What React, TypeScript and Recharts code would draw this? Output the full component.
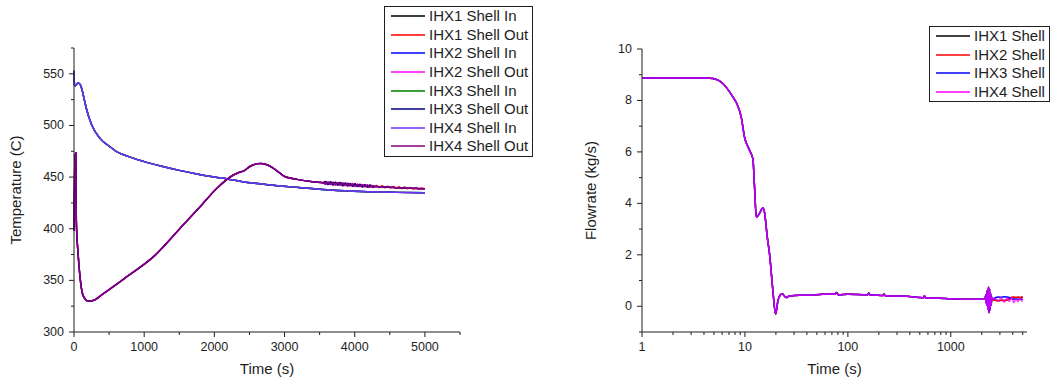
import { LineChart, Line, XAxis, YAxis, Legend } from 'recharts'

const FONT = '"Liberation Sans", Arial, sans-serif'
const INK = '#1e1e1e'

// ---- left panel: shell temperatures ----
const inTime = [0, 8, 20, 55, 90, 120, 150, 180, 250, 370, 510, 600, 750, 1000, 1250, 1500, 1750, 2000, 2200, 2400, 2650, 2900, 3200, 3650, 4100, 4600, 5000]
const shellInTemp = [553, 539, 538.5, 541, 539.5, 533, 524, 515.5, 501, 487.5, 479.5, 475, 470.5, 465, 460.5, 456.5, 453, 450, 448, 445.5, 443.5, 441.5, 440, 437.5, 436, 435.2, 434.8]

const outTime = [0, 15, 25, 33, 58, 91, 129, 200, 271, 414, 748, 1129, 1510, 1796, 2033, 2271, 2350, 2420, 2500, 2600, 2650, 2750, 2843, 2930, 3010, 3177, 3400, 3550]
const shellOutTemp = [398, 470, 473.5, 408, 376, 350, 335.5, 330, 330.5, 337, 353.3, 372.7, 400.3, 421.2, 439, 452, 454.5, 456, 460, 462.8, 463.2, 462, 458.5, 454, 450.3, 447.8, 445.5, 444.5]

// wiggly tails of the outlet curves
const loopTime = [3585, 3620, 3655, 3690, 3725, 3760, 3795, 3830, 3865, 3900, 3935, 3970, 4005, 4040, 4075, 4110, 4145, 4180, 4215, 4250]
const loopUpper = [445.7, 442.8, 445.4, 442.4, 445.0, 442.1, 444.7, 441.7, 444.3, 441.4, 443.9, 441.1, 443.5, 440.8, 443.1, 440.5, 442.7, 440.3, 442.3, 440.1]
const loopLower = [442.9, 445.6, 442.6, 445.2, 442.2, 444.9, 441.9, 444.5, 441.5, 444.2, 441.3, 443.7, 440.9, 443.4, 440.7, 442.9, 440.3, 442.5, 440.1, 441.9]
const loopLowerSoft = [443.4, 445.1, 443.1, 444.7, 442.7, 444.4, 442.4, 444.0, 442.0, 443.7, 441.8, 443.2, 441.4, 442.9, 441.2, 442.4, 440.8, 442.0, 440.6, 441.5]
const outEndTime = [4300, 4400, 4500, 4600, 4700, 4800, 4900, 5000]
const outEndTemp = [440.9, 440.5, 440.1, 439.7, 439.4, 439.1, 438.9, 438.7]
const redTailTime = [4190, 4230, 4270, 4310, 4350, 4390, 4430, 4470, 4510, 4550, 4590, 4630, 4670, 4710, 4750, 4790, 4830, 4870, 4910, 4950, 5000]
const redTailTemp = [440.0, 442.1, 440.0, 441.8, 439.8, 441.5, 439.6, 441.2, 439.4, 440.9, 439.1, 440.6, 438.9, 440.3, 438.7, 440.0, 438.5, 439.8, 438.3, 439.5, 438.7]

const tempXTicks = [0, 500, 1000, 1500, 2000, 2500, 3000, 3500, 4000, 4500, 5000, 5500]
const tempXLabels = [0, 1000, 2000, 3000, 4000, 5000]
const tempYTicks = [300, 325, 350, 375, 400, 425, 450, 475, 500, 525, 550, 575]
const tempYLabels = [300, 350, 400, 450, 500, 550]

// ---- right panel: shell flowrates ----
const flowTime = [1, 2, 3, 4.2, 4.9, 6.1, 7.6, 8.4, 9.2, 9.9, 11.1, 11.96, 12.4, 12.9, 13.9, 14.9, 15.5, 16.5, 17.35, 18.7, 19.85, 20.9, 22, 23, 25.1, 27.1, 34, 42, 57, 75, 78, 81, 100, 155, 160, 165, 175, 220, 225, 230, 368, 540, 555, 570, 776, 1000, 1636, 2100, 2150, 2190, 2230, 2260, 2290, 2320, 2350, 2380, 2410, 2440, 2470, 2500, 2550]
const flowShell = [8.87, 8.87, 8.87, 8.87, 8.85, 8.66, 8.15, 7.85, 7.36, 6.58, 6.06, 5.72, 4.63, 3.46, 3.62, 3.82, 3.65, 2.68, 2.03, 0.6, -0.31, 0.21, 0.44, 0.49, 0.34, 0.4, 0.43, 0.43, 0.47, 0.47, 0.54, 0.44, 0.47, 0.45, 0.52, 0.43, 0.44, 0.42, 0.48, 0.41, 0.39, 0.33, 0.41, 0.32, 0.31, 0.29, 0.27, 0.27, 0.28, 0.45, 0.05, 0.62, -0.12, 0.75, -0.25, 0.7, -0.15, 0.5, 0.05, 0.35, 0.27]
const flowTailTime = [2700, 2900, 3100, 3300, 3500, 3700, 3900, 4100, 4300, 4500, 4700, 4900, 5000]
const ihx1Tail = [0.24, 0.22, 0.23, 0.22, 0.24, 0.28, 0.33, 0.34, 0.33, 0.34, 0.33, 0.34, 0.33]
const ihx2Tail = [0.22, 0.21, 0.23, 0.22, 0.24, 0.3, 0.35, 0.36, 0.35, 0.36, 0.35, 0.36, 0.35]
const ihx3Tail = [0.33, 0.36, 0.35, 0.37, 0.36, 0.34, 0.3, 0.27, 0.28, 0.26, 0.28, 0.27, 0.28]
const ihx4Tail = [0.3, 0.2, 0.34, 0.16, 0.31, 0.19, 0.33, 0.14, 0.29, 0.18, 0.31, 0.2, 0.27]

const flowXTicks = [1, 2, 3, 4, 5, 6, 7, 8, 9, 10, 20, 30, 40, 50, 60, 70, 80, 90, 100, 200, 300, 400, 500, 600, 700, 800, 900, 1000, 2000, 3000, 4000, 5000]
const flowXLabels = [1, 10, 100, 1000]
const flowYTicks = [-1, 0, 1, 2, 3, 4, 5, 6, 7, 8, 9, 10]
const flowYLabels = [0, 2, 4, 6, 8, 10]

const zip = (ts: number[], vs: number[]) => ts.map((t, i) => ({ t, v: vs[i] }))

const inData = zip(inTime, shellInTemp)
const outHead = zip(outTime, shellOutTemp)
const outEnd = zip(outEndTime, outEndTemp)
const tempSeries = [
  { name: 'IHX1 Shell In', color: '#000000', data: inData },
  { name: 'IHX1 Shell Out', color: '#ff0000', data: [...outHead, ...zip(loopTime.slice(0, 17), loopUpper.slice(0, 17)), ...zip(redTailTime, redTailTemp)] },
  { name: 'IHX2 Shell In', color: '#0000ff', data: inData },
  { name: 'IHX2 Shell Out', color: '#ff00ff', data: [...outHead, ...zip(loopTime, loopLower), ...outEnd] },
  { name: 'IHX3 Shell In', color: '#008000', data: inData },
  { name: 'IHX3 Shell Out', color: '#000080', data: [...outHead, ...zip(loopTime, loopUpper), ...outEnd] },
  { name: 'IHX4 Shell In', color: '#7030ff', data: inData },
  { name: 'IHX4 Shell Out', color: '#800080', data: [...outHead, ...zip(loopTime, loopLowerSoft), ...outEnd] },
]

const flowHead = zip(flowTime, flowShell)
const flowSeries = [
  { name: 'IHX1 Shell', color: '#000000', data: [...flowHead, ...zip(flowTailTime, ihx1Tail)], opacity: 1 },
  { name: 'IHX2 Shell', color: '#ff0000', data: [...flowHead, ...zip(flowTailTime, ihx2Tail)], opacity: 1 },
  { name: 'IHX3 Shell', color: '#0000ff', data: [...flowHead, ...zip(flowTailTime, ihx3Tail)], opacity: 1 },
  { name: 'IHX4 Shell', color: '#ff00ff', data: [...flowHead, ...zip(flowTailTime, ihx4Tail)], opacity: 0.75 },
]

const tickText = { fontFamily: FONT, fontSize: 12.5, fill: INK }
const titleStyle = { fontFamily: FONT, fontSize: 15, fill: INK, textAnchor: 'middle' as const }

// tick mark + optional label (bottom axis), tickSize/tickMargin are 0 so y is the axis line
const bottomTick = (labels: number[]) => (props: any) => {
  const { x, y, payload } = props
  const major = labels.includes(payload.value)
  return (
    <g>
      <line x1={x} y1={y} x2={x} y2={y + (major ? 5 : 3)} stroke={INK} />
      {major && (
        <text x={x} y={y + 15} textAnchor="middle" dominantBaseline="central" {...tickText}>
          {payload.value}
        </text>
      )}
    </g>
  )
}

const leftTick = (labels: number[]) => (props: any) => {
  const { x, y, payload } = props
  const major = labels.includes(payload.value)
  return (
    <g>
      <line x1={x - (major ? 5 : 3)} y1={y} x2={x} y2={y} stroke={INK} />
      {major && (
        <text x={x - 10} y={y} textAnchor="end" dominantBaseline="central" {...tickText}>
          {payload.value}
        </text>
      )}
    </g>
  )
}

function BoxLegend({ payload }: any) {
  return (
    <div style={{ border: `1px solid ${INK}`, background: '#fff', fontFamily: FONT, fontSize: 15, color: INK }}>
      {(payload || []).map((e: any) => (
        <div key={e.value} style={{ display: 'flex', alignItems: 'center', height: 18.6, paddingLeft: 5.5 }}>
          <svg width={34} height={4} style={{ flex: 'none' }}>
            <line x1={0} y1={2} x2={34} y2={2} stroke={e.color} strokeWidth={1.5} />
          </svg>
          <span style={{ marginLeft: 4.5, whiteSpace: 'nowrap', lineHeight: '16px' }}>{e.value}</span>
        </div>
      ))}
    </div>
  )
}

function TempChart() {
  return (
    <LineChart width={540} height={385} margin={{ top: 48, right: 80, bottom: 11, left: 0 }}>
      <XAxis
        dataKey="t"
        type="number"
        domain={[0, 5500]}
        ticks={tempXTicks}
        interval={0}
        height={42}
        tickSize={0}
        tickMargin={0}
        tickLine={false}
        axisLine={{ stroke: INK }}
        tick={bottomTick(tempXLabels)}
        label={{ value: 'Time (s)', position: 'insideBottom', offset: 0, style: titleStyle }}
      />
      <YAxis
        type="number"
        domain={[300, 575]}
        ticks={tempYTicks}
        interval={0}
        width={74}
        tickSize={0}
        tickMargin={0}
        tickLine={false}
        axisLine={{ stroke: INK }}
        tick={leftTick(tempYLabels)}
        label={{ value: 'Temperature (C)', angle: -90, position: 'insideLeft', offset: 16, style: titleStyle }}
      />
      <Legend
        layout="vertical"
        align="center"
        verticalAlign="middle"
        content={BoxLegend}
        wrapperStyle={{ left: 384, top: 6, width: 149 }}
      />
      {tempSeries.map((s) => (
        <Line
          key={s.name}
          name={s.name}
          data={s.data}
          dataKey="v"
          type="monotoneX"
          stroke={s.color}
          strokeWidth={1.5}
          dot={false}
          activeDot={false}
          isAnimationActive={false}
        />
      ))}
    </LineChart>
  )
}

function FlowChart() {
  return (
    <LineChart width={511} height={385} margin={{ top: 49, right: 24, bottom: 11, left: 0 }}>
      <XAxis
        dataKey="t"
        type="number"
        scale="log"
        domain={[1, 5500]}
        allowDataOverflow
        ticks={flowXTicks}
        interval={0}
        height={42}
        tickSize={0}
        tickMargin={0}
        tickLine={false}
        axisLine={{ stroke: INK }}
        tick={bottomTick(flowXLabels)}
        label={{ value: 'Time (s)', position: 'insideBottom', offset: 0, style: titleStyle }}
      />
      <YAxis
        type="number"
        domain={[-1, 10]}
        ticks={flowYTicks}
        interval={0}
        width={102}
        tickSize={0}
        tickMargin={0}
        tickLine={false}
        axisLine={{ stroke: INK }}
        tick={leftTick(flowYLabels)}
        label={{ value: 'Flowrate (kg/s)', angle: -90, position: 'insideLeft', offset: 51, style: titleStyle }}
      />
      <Legend
        layout="vertical"
        align="center"
        verticalAlign="middle"
        content={BoxLegend}
        wrapperStyle={{ left: 389, top: 26, width: 121 }}
      />
      {flowSeries.map((s) => (
        <Line
          key={s.name}
          name={s.name}
          data={s.data}
          dataKey="v"
          type="monotoneX"
          stroke={s.color}
          strokeOpacity={s.opacity}
          strokeWidth={1.5}
          dot={false}
          activeDot={false}
          isAnimationActive={false}
        />
      ))}
    </LineChart>
  )
}

export default function App() {
  return (
    <div style={{ position: 'absolute', left: 0, top: 0, width: 1051, height: 385, background: '#fff', fontFamily: FONT }}>
      <div style={{ position: 'absolute', left: 0, top: 0 }}>
        <TempChart />
      </div>
      <div style={{ position: 'absolute', left: 540, top: 0 }}>
        <FlowChart />
      </div>
    </div>
  )
}
